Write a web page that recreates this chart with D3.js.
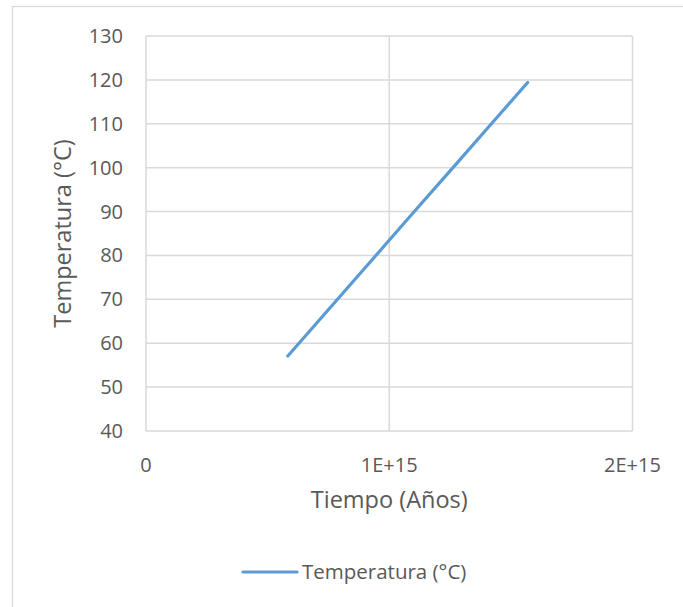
<!DOCTYPE html>
<html>
<head>
<meta charset="utf-8">
<script src="https://cdn.jsdelivr.net/npm/d3@7"></script>
<style>
  html, body { margin: 0; padding: 0; background: #fff; }
  svg { display: block; }
  text { font-family: "Open Sans", "Liberation Sans", sans-serif; fill: #595959; }
</style>
</head>
<body>
<svg id="chart" width="683" height="607"></svg>
<script>
// Temperature over time (years)
const tiempo = [0.583e15, 0.945e15, 1.103e15, 1.262e15, 1.42e15, 1.569e15];
const temperatura = [57.1, 80, 90, 100, 110, 119.4];
const xTicks = [0, 1e15, 2e15];
const xTickLabels = ["0", "1E+15", "2E+15"];
const yTicks = [40, 50, 60, 70, 80, 90, 100, 110, 120, 130];
const seriesName = "Temperatura (°C)";
const xTitle = "Tiempo (Años)";
const yTitle = "Temperatura (°C)";

const svg = d3.select("#chart");
const W = 683, H = 607;
const plot = { left: 146, right: 632.5, top: 36, bottom: 431 };
const grid = "#d9d9d9";
const lineColor = "#5b9bd5";

// Chart area frame
svg.append("rect")
  .attr("x", 12.5).attr("y", 6.5)
  .attr("width", W + 20).attr("height", H + 20)
  .attr("fill", "#fff").attr("stroke", grid).attr("stroke-width", 1.3);

const x = d3.scaleLinear().domain([0, 2e15]).range([plot.left, plot.right]);
const y = d3.scaleLinear().domain([40, 130]).range([plot.bottom, plot.top]);

// Horizontal gridlines
svg.append("g")
  .selectAll("line").data(yTicks).join("line")
  .attr("x1", plot.left).attr("x2", plot.right)
  .attr("y1", d => y(d)).attr("y2", d => y(d))
  .attr("stroke", grid).attr("stroke-width", 1.5);

// Vertical gridlines
svg.append("g")
  .selectAll("line").data(xTicks).join("line")
  .attr("y1", plot.top).attr("y2", plot.bottom)
  .attr("x1", d => x(d)).attr("x2", d => x(d))
  .attr("stroke", grid).attr("stroke-width", 1.5);

// Y tick labels
svg.append("g")
  .selectAll("text").data(yTicks).join("text")
  .attr("x", plot.left - 23).attr("y", d => y(d))
  .attr("dy", "0.35em")
  .attr("text-anchor", "end")
  .attr("font-size", 20)
  .text(d => d);

// X tick labels
svg.append("g")
  .selectAll("text").data(xTicks).join("text")
  .attr("x", d => x(d)).attr("y", 465)
  .attr("dy", "0.35em")
  .attr("text-anchor", "middle")
  .attr("font-size", 20)
  .text((d, i) => xTickLabels[i]);

// Axis titles
svg.append("text")
  .attr("x", (plot.left + plot.right) / 2).attr("y", 500)
  .attr("dy", "0.35em")
  .attr("text-anchor", "middle")
  .attr("font-size", 23.5)
  .text(xTitle);

svg.append("text")
  .attr("transform", `translate(63, ${(plot.top + plot.bottom) / 2}) rotate(-90)`)
  .attr("dy", "0.35em")
  .attr("text-anchor", "middle")
  .attr("font-size", 23.5)
  .text(yTitle);

// Series line
const data = tiempo.map((t, i) => [t, temperatura[i]]);
svg.append("path")
  .datum(data)
  .attr("fill", "none")
  .attr("stroke", lineColor)
  .attr("stroke-width", 3.2)
  .attr("stroke-linecap", "round")
  .attr("stroke-linejoin", "round")
  .attr("d", d3.line().x(d => x(d[0])).y(d => y(d[1])));

// Legend
const leg = svg.append("g").attr("transform", "translate(243, 572)");
leg.append("line")
  .attr("x1", 0).attr("x2", 54).attr("y1", 0).attr("y2", 0)
  .attr("stroke", lineColor).attr("stroke-width", 3.2)
  .attr("stroke-linecap", "round");
leg.append("text")
  .attr("x", 59).attr("y", 0).attr("dy", "0.35em")
  .attr("font-size", 20.5)
  .text(seriesName);
</script>
</body>
</html>
